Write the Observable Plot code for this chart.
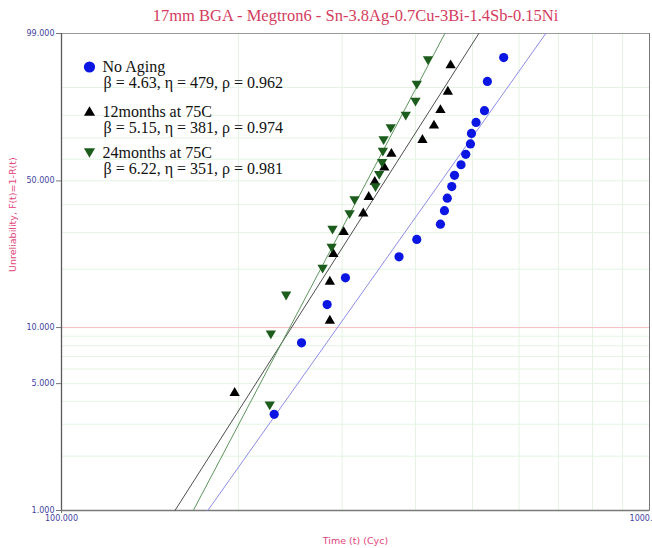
<!DOCTYPE html>
<html>
<head>
<meta charset="utf-8">
<script src="https://cdn.jsdelivr.net/npm/d3@7"></script>
<script src="https://cdn.jsdelivr.net/npm/@observablehq/plot@0.6"></script>
<style>
  html, body { margin: 0; padding: 0; background: #fff; }
  #chart { width: 652px; height: 548px; }
</style>
</head>
<body>
<div id="chart"></div>
<script>
// Weibull probability plot: failure cycles vs. unreliability (median ranks)
const titleText = "17mm BGA - Megtron6 - Sn-3.8Ag-0.7Cu-3Bi-1.4Sb-0.15Ni";
const xTitle = "Time (t) (Cyc)";
const yTitle = "Unreliability, F(t)=1-R(t)";

const seriesNames = ["No Aging", "12months at 75C", "24months at 75C"];
const beta = [4.63, 5.15, 6.22];
const eta = [479, 381, 351];
const rho = [0.962, 0.974, 0.981];

// No Aging
const noAgingCycles = [230, 256, 283, 304, 375, 402, 441, 448, 453, 461, 466, 478, 487, 496, 498, 507, 524, 530, 565];
const noAgingF = [3.4, 8.3, 13.2, 18.1, 23.0, 27.9, 32.8, 37.7, 42.6, 47.5, 52.5, 57.4, 62.3, 67.2, 72.1, 77.0, 81.9, 91.7, 96.6];
// 12 months at 75C
const aged12Cycles = [197, 286, 286, 290, 302, 326, 333, 341, 354, 364, 411, 430, 441, 454, 459];
const aged12F = [4.5, 11.0, 17.5, 24.0, 30.5, 37.0, 43.5, 50.0, 56.5, 63.0, 69.5, 76.0, 82.5, 89.0, 95.5];
// 24 months at 75C
const aged24Cycles = [226, 227, 241, 278, 288, 289, 309, 315, 342, 347, 351, 352, 353, 363, 385, 400, 402, 420];
const aged24F = [3.8, 9.2, 14.7, 20.1, 25.5, 31.0, 36.4, 41.8, 47.3, 52.7, 58.2, 63.6, 69.0, 74.5, 79.9, 85.3, 90.8, 96.2];

// axis ticks and grid
const yTicks = [1, 5, 10, 50, 99];
const xTickStart = [100];
const xTickEnd = [1000];
const xGrid = [200, 300, 400, 500, 600, 700, 800, 900];
const yGrid = [2, 3, 4, 5, 6, 7, 8, 9, 20, 30, 40, 50, 60, 70, 80, 90];
const yRedLine = [10];

const dotColors = ["#0b16e3", "#000000", "#1c5c1c"];
const lineColors = ["#8c8ce8", "#4d4d4d", "#5d955d"];

// Weibull probability transform of unreliability in percent
const W = F => Math.log(-Math.log(1 - F / 100));
const Winv = v => 100 * (1 - Math.exp(-Math.exp(v)));

const triUp = {
  draw(ctx, size) {
    const r = Math.sqrt(size / Math.PI);
    ctx.moveTo(0, -r * 1.0);
    ctx.lineTo(r * 1.05, r * 0.8);
    ctx.lineTo(-r * 1.05, r * 0.8);
    ctx.closePath();
  }
};
const triDown = {
  draw(ctx, size) {
    const r = Math.sqrt(size / Math.PI);
    ctx.moveTo(0, r * 1.0);
    ctx.lineTo(r * 1.05, -r * 0.8);
    ctx.lineTo(-r * 1.05, -r * 0.8);
    ctx.closePath();
  }
};
const symbols = [d3.symbolCircle, triUp, triDown];

const pts = (cycles, F, k) => cycles.map((t, i) => ({t, F: F[i], k}));
const points = [
  ...pts(noAgingCycles, noAgingF, 0),
  ...pts(aged12Cycles, aged12F, 1),
  ...pts(aged24Cycles, aged24F, 2)
];

// fitted Weibull lines, F(t) = 1 - exp(-(t/eta)^beta), from 1% to 99%
const fits = beta.map((b, k) => [1, 99].map(F => ({
  k, F, t: eta[k] * Math.pow(-Math.log(1 - F / 100), 1 / b)
})));

const legendRows = seriesNames.map((name, k) => ({
  k, name, stats: `\u03b2 = ${beta[k]}, \u03b7 = ${eta[k]}, \u03c1 = ${rho[k]}`
}));
const legendY = [33, 78, 119];

const serif = "'Liberation Serif', 'Times New Roman', serif";
const sans = "'DejaVu Sans', Verdana, sans-serif";
const tickColor = "#3f3f9f";

const chart = Plot.plot({
  width: 652,
  height: 548,
  marginLeft: 61,
  marginRight: 3,
  marginTop: 33,
  marginBottom: 38,
  style: {background: "#fff", fontFamily: sans},
  x: {type: "log", domain: [100, 1000]},
  y: {domain: [W(1), W(99)]},
  marks: [
    // grid
    Plot.ruleX(xGrid, {stroke: "#e3f4e3", strokeWidth: 1}),
    Plot.ruleY(yGrid, {y: W, stroke: "#e3f4e3", strokeWidth: 1}),
    Plot.ruleY(yRedLine, {y: W, stroke: "#f4c0c0", strokeWidth: 1}),
    Plot.frame({stroke: "#9a9a9a"}),
    Plot.ruleX(xTickStart, {stroke: "#5a5a5a", strokeWidth: 1.3}),
    Plot.ruleY([W(1)], {stroke: "#7a7a7a", strokeWidth: 1.3}),
    // axes
    Plot.axisY(yTicks.map(W), {
      anchor: "left", tickSize: 5, tickPadding: 2, fontSize: 8,
      fill: tickColor, stroke: "#777", label: null,
      tickFormat: v => Winv(v).toFixed(3)
    }),
    Plot.axisX(xTickStart, {
      anchor: "bottom", tickSize: 3, tickPadding: 2, fontSize: 8,
      fill: tickColor, stroke: "#777", label: null,
      tickFormat: () => "100.000"
    }),
    Plot.tickX(xTickEnd, {x: d => d, frameAnchor: "bottom", stroke: "#777"}),
    Plot.text(xTickEnd, {
      x: d => d, frameAnchor: "bottom", dy: 10, dx: 3, textAnchor: "end",
      fontSize: 8, fill: tickColor, text: () => "1000."
    }),
    // fitted lines
    ...fits.map((f, k) => Plot.line(f, {x: "t", y: d => W(d.F), stroke: lineColors[k], strokeWidth: 1})),
    // data points
    ...[0, 1, 2].map(k => Plot.dot(points.filter(d => d.k === k), {
      x: "t", y: d => W(d.F), r: k === 0 ? 4.6 : 4.9, symbol: symbols[k], fill: dotColors[k], stroke: "none"
    })),
    // legend
    ...legendRows.map((row, i) => Plot.dot([row], {
      frameAnchor: "top-left", dx: 28, dy: legendY[i] + (i === 0 ? 0.5 : 0), r: i === 0 ? 5.6 : 5.3,
      symbol: symbols[row.k], fill: dotColors[row.k], stroke: "none"
    })),
    ...legendRows.map((row, i) => Plot.text([row.name], {
      frameAnchor: "top-left", dx: 41, dy: legendY[i], textAnchor: "start", lineAnchor: "middle",
      fontSize: 16, fontFamily: serif, fill: "#111"
    })),
    ...legendRows.map((row, i) => Plot.text([row.stats], {
      frameAnchor: "top-left", dx: 42, dy: legendY[i] + 16.5, textAnchor: "start", lineAnchor: "middle",
      fontSize: 16, fontFamily: serif, fill: "#111"
    })),
    // titles
    Plot.text([titleText], {
      frameAnchor: "top", dy: -18, fontSize: 16.5, fontFamily: serif, fill: "#d43c5e", lineAnchor: "middle"
    }),
    Plot.text([xTitle], {
      frameAnchor: "bottom", dy: 30, fontSize: 9.5, fill: "#e2457a", lineAnchor: "middle"
    }),
    Plot.text([yTitle], {
      frameAnchor: "left", dx: -49, rotate: -90, fontSize: 9.5, fill: "#e2457a", lineAnchor: "middle"
    })
  ]
});

document.getElementById("chart").appendChild(chart);
</script>
</body>
</html>
